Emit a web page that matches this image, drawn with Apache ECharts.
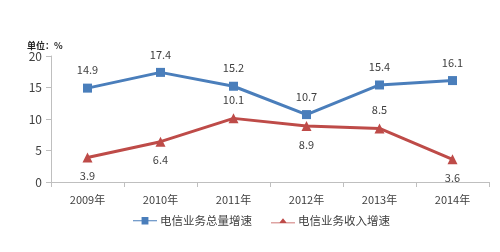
<!DOCTYPE html>
<html><head><meta charset="utf-8">
<script src="https://cdn.jsdelivr.net/npm/echarts@6/dist/echarts.min.js"></script>
<style>html,body{margin:0;padding:0;background:#fff}#c{width:500px;height:252px}</style>
</head><body><div id="c"></div>
<script>
const categories = ['2009年','2010年','2011年','2012年','2013年','2014年'];
const totalGrowth = [14.9, 17.4, 15.2, 10.7, 15.4, 16.1];
const revenueGrowth = [3.9, 6.4, 10.1, 8.9, 8.5, 3.6];
const revenueLabelPos = ['bottom','bottom','top','bottom','top','bottom'];
const yTicks = [0, 5, 10, 15, 20];

const font = '"Microsoft YaHei","Noto Sans CJK SC",sans-serif';
const chart = echarts.init(document.getElementById('c'));
chart.setOption({
  animation: false,
  textStyle: {fontFamily: font},
  grid: {left: 51, right: 11, top: 56, bottom: 70},
  title: {text: '单位：%', left: 22, top: 36, textStyle: {fontSize: 9, fontWeight: 'bold', color: '#222', fontFamily: font}},
  legend: {
    top: 210, left: 128, itemGap: 19, itemWidth: 24, itemHeight: 8,
    textStyle: {fontSize: 11.5, color: '#404040', fontFamily: font, padding: [0, 0, 0, -2]},
    data: [{name: '电信业务总量增速', icon: 'path://M0,4h10v-4h8v4h10v1h-10v4h-8v-4h-10z'},
           {name: '电信业务收入增速', icon: 'path://M0,5h10l4,-5l4,5h10v1h-28z'}]
  },
  xAxis: {
    type: 'category', data: categories, boundaryGap: true,
    axisLine: {lineStyle: {color: '#bfbfbf'}},
    axisTick: {show: true, alignWithLabel: false, length: 5, lineStyle: {color: '#bfbfbf'}},
    axisLabel: {color: '#404040', fontSize: 11, margin: 12}
  },
  yAxis: {
    type: 'value', min: 0, max: 20, interval: 5,
    axisLine: {show: true, lineStyle: {color: '#bfbfbf'}},
    axisTick: {show: true, length: 5, lineStyle: {color: '#bfbfbf'}},
    splitLine: {show: false},
    axisLabel: {color: '#404040', fontSize: 12, margin: 9,
      formatter: v => yTicks.includes(v) ? String(v) : ''}
  },
  series: [
    {name: '电信业务总量增速', type: 'line', data: totalGrowth,
     symbol: 'rect', symbolSize: 9,
     itemStyle: {color: '#4a7ebb'}, lineStyle: {width: 3, color: '#4a7ebb'},
     label: {show: true, position: 'top', distance: 8, color: '#404040', fontSize: 11,
       formatter: p => p.value.toFixed(1)}},
    {name: '电信业务收入增速', type: 'line',
     data: revenueGrowth.map((v, i) => ({value: v, label: {position: revenueLabelPos[i]}})),
     symbol: 'triangle', symbolSize: 10,
     itemStyle: {color: '#be4b48'}, lineStyle: {width: 3, color: '#be4b48'},
     label: {show: true, distance: 8, color: '#404040', fontSize: 11,
       formatter: p => p.value.toFixed(1)}}
  ]
});
</script></body></html>
